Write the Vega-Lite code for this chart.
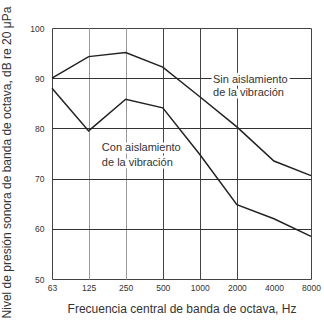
{
  "$schema": "https://vega.github.io/schema/vega-lite/v6.json",
  "autosize": "none",
  "width": 259,
  "height": 251,
  "padding": {"left": 52, "top": 28, "right": 13, "bottom": 43},
  "background": "white",
  "config": {
    "font": "Liberation Sans",
    "view": {"stroke": "#444", "strokeWidth": 1}
  },
  "datasets": {
    "curves": [
      {"serie": "Sin aislamiento", "frecuencia": 63, "nivel": 90},
      {"serie": "Sin aislamiento", "frecuencia": 125, "nivel": 94.3},
      {"serie": "Sin aislamiento", "frecuencia": 250, "nivel": 95.1},
      {"serie": "Sin aislamiento", "frecuencia": 500, "nivel": 92.2},
      {"serie": "Sin aislamiento", "frecuencia": 1000, "nivel": 86.3},
      {"serie": "Sin aislamiento", "frecuencia": 2000, "nivel": 80.3},
      {"serie": "Sin aislamiento", "frecuencia": 4000, "nivel": 73.5},
      {"serie": "Sin aislamiento", "frecuencia": 8000, "nivel": 70.6},
      {"serie": "Con aislamiento", "frecuencia": 63, "nivel": 88},
      {"serie": "Con aislamiento", "frecuencia": 125, "nivel": 79.5},
      {"serie": "Con aislamiento", "frecuencia": 250, "nivel": 85.8},
      {"serie": "Con aislamiento", "frecuencia": 500, "nivel": 84.1},
      {"serie": "Con aislamiento", "frecuencia": 1000, "nivel": 74.8},
      {"serie": "Con aislamiento", "frecuencia": 2000, "nivel": 64.8},
      {"serie": "Con aislamiento", "frecuencia": 4000, "nivel": 62},
      {"serie": "Con aislamiento", "frecuencia": 8000, "nivel": 58.5}
    ],
    "labels": [
      {"frecuencia": 1280, "nivel": 89.6, "texto": "Sin aislamiento"},
      {"frecuencia": 1280, "nivel": 87.0, "texto": "de la vibración"},
      {"frecuencia": 160, "nivel": 76.0, "texto": "Con aislamiento"},
      {"frecuencia": 160, "nivel": 73.2, "texto": "de la vibración"}
    ]
  },
  "layer": [
    {
      "data": {"name": "curves"},
      "mark": {"type": "line", "color": "#222", "strokeWidth": 1.5},
      "encoding": {
        "x": {
          "field": "frecuencia",
          "type": "quantitative",
          "scale": {"type": "log", "domain": [63, 8000], "nice": false, "zero": false},
          "axis": {
            "values": [63, 125, 250, 500, 1000, 2000, 4000, 8000],
            "format": "d",
            "title": "Frecuencia central de banda de octava, Hz",
            "titleFontSize": 12,
            "titleFontWeight": "normal",
            "titleColor": "#333",
            "titlePadding": 12,
            "labelFontSize": 8.5,
            "labelColor": "#333",
            "labelPadding": 4,
            "labelFlush": false,
            "labelOverlap": false,
            "ticks": false,
            "domain": false,
            "grid": true,
            "gridColor": {"condition": {"test": "datum.value == 125 || datum.value == 250", "value": "#999"}, "value": "#444"},
            "gridOpacity": {"condition": {"test": "datum.value == 4000 || datum.value == 63 || datum.value == 8000", "value": 0}, "value": 1}
          }
        },
        "y": {
          "field": "nivel",
          "type": "quantitative",
          "scale": {"domain": [50, 100], "nice": false, "zero": false},
          "axis": {
            "values": [50, 60, 70, 80, 90, 100],
            "title": "Nivel de presión sonora de banda de octava, dB re 20 μPa",
            "titleFontSize": 12,
            "titleFontWeight": "normal",
            "titleColor": "#333",
            "titlePadding": 16,
            "titleY": 134,
            "labelFontSize": 8.5,
            "labelColor": "#333",
            "labelPadding": 8,
            "labelFlush": false,
            "ticks": false,
            "domain": false,
            "grid": true,
            "gridColor": "#333",
            "gridOpacity": {"condition": {"test": "datum.value == 50 || datum.value == 100", "value": 0}, "value": 1}
          }
        },
        "detail": {"field": "serie", "type": "nominal"}
      }
    },
    {
      "data": {"name": "labels"},
      "mark": {"type": "text", "align": "left", "baseline": "middle", "fontSize": 11, "stroke": "white", "strokeWidth": 5, "strokeJoin": "round", "fill": "white"},
      "encoding": {
        "x": {"field": "frecuencia", "type": "quantitative"},
        "y": {"field": "nivel", "type": "quantitative"},
        "text": {"field": "texto", "type": "nominal"}
      }
    },
    {
      "data": {"name": "labels"},
      "mark": {"type": "text", "align": "left", "baseline": "middle", "fontSize": 11, "color": "#333"},
      "encoding": {
        "x": {"field": "frecuencia", "type": "quantitative"},
        "y": {"field": "nivel", "type": "quantitative"},
        "text": {"field": "texto", "type": "nominal"}
      }
    }
  ]
}
